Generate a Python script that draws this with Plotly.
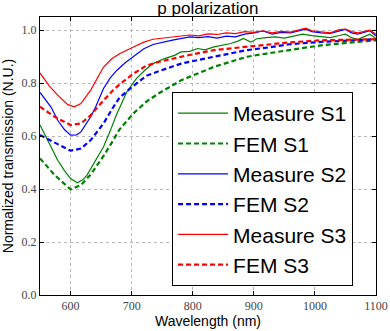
import plotly.graph_objects as go

# Measured spectra (wavelength in nm, normalized transmission)
meas_s1_wl = [550, 565, 579, 590, 600, 611, 620, 627, 640, 654, 665, 675, 692, 708, 722, 735,
              754, 770, 781, 795, 808, 820, 835, 850, 862, 875, 883, 895, 905, 920, 935, 950,
              965, 980, 995, 1010, 1025, 1040, 1050, 1060, 1070, 1080, 1090, 1100]
meas_s1 = [0.642, 0.57, 0.509, 0.47, 0.44, 0.424, 0.435, 0.453, 0.505, 0.56, 0.62, 0.68, 0.767,
           0.818, 0.85, 0.874, 0.893, 0.905, 0.918, 0.92, 0.931, 0.926, 0.937, 0.945, 0.95, 0.96,
           0.969, 0.955, 0.968, 0.972, 0.975, 0.97, 0.978, 0.985, 0.98, 0.975, 0.972, 0.98,
           0.985, 0.972, 0.965, 0.975, 0.985, 0.968]

meas_s2_wl = [550, 560, 568, 579, 590, 600, 610, 617, 633, 641, 654, 665, 676, 690, 703, 720,
              735, 750, 765, 780, 795, 810, 825, 840, 855, 870, 885, 900, 915, 930, 945, 960,
              975, 985, 995, 1010, 1025, 1040, 1050, 1060, 1070, 1080, 1090, 1100]
meas_s2 = [0.765, 0.735, 0.71, 0.66, 0.625, 0.604, 0.605, 0.616, 0.673, 0.71, 0.78, 0.82,
           0.849, 0.878, 0.9, 0.93, 0.946, 0.955, 0.962, 0.968, 0.975, 0.972, 0.976, 0.97,
           0.978, 0.975, 0.985, 0.99, 0.997, 0.985, 0.992, 0.99, 1.0, 1.004, 0.995, 0.99,
           0.988, 0.998, 1.003, 0.99, 0.985, 0.992, 0.998, 0.978]

meas_s3_wl = [550, 565, 579, 595, 606, 617, 633, 654, 668, 681, 703, 720, 735, 750, 765, 780,
              795, 810, 825, 840, 855, 870, 885, 900, 915, 930, 945, 960, 975, 985, 995, 1010,
              1025, 1040, 1050, 1060, 1070, 1080, 1090, 1100]
meas_s3 = [0.839, 0.79, 0.755, 0.72, 0.711, 0.723, 0.774, 0.861, 0.893, 0.912, 0.937, 0.955,
           0.966, 0.97, 0.975, 0.978, 0.982, 0.979, 0.986, 0.984, 0.99, 0.987, 0.995, 0.992,
           0.998, 0.99, 0.996, 0.993, 1.003, 1.008, 0.998, 0.995, 0.99, 1.002, 1.004, 0.995,
           0.99, 0.995, 1.0, 0.985]

# FEM simulations
fem_wl = [550, 574, 600, 617, 633, 644, 654, 670, 680, 703, 724, 744, 781, 835, 889, 921,
          958, 1010, 1100]
fem_s1 = [0.516, 0.453, 0.399, 0.415, 0.455, 0.49, 0.525, 0.585, 0.625, 0.686, 0.73, 0.761,
          0.811, 0.862, 0.9, 0.912, 0.925, 0.943, 0.962]
fem_s2 = [0.604, 0.575, 0.545, 0.553, 0.585, 0.618, 0.648, 0.71, 0.745, 0.79, 0.828, 0.845,
          0.874, 0.9, 0.925, 0.934, 0.947, 0.956, 0.966]
fem_s3 = [0.711, 0.673, 0.642, 0.648, 0.679, 0.71, 0.735, 0.774, 0.795, 0.836, 0.866, 0.88,
          0.9, 0.925, 0.937, 0.943, 0.954, 0.962, 0.966]

x_ticks = [600, 700, 800, 900, 1000, 1100]
y_ticks = [0.0, 0.2, 0.4, 0.6, 0.8, 1.0]

series = [
    ("Measure S1", meas_s1_wl, meas_s1, "#008000", "solid", 1.2),
    ("FEM S1", fem_wl, fem_s1, "#008000", "5px,3px", 2.2),
    ("Measure S2", meas_s2_wl, meas_s2, "#0000ff", "solid", 1.2),
    ("FEM S2", fem_wl, fem_s2, "#0000ff", "5px,3px", 2.2),
    ("Measure S3", meas_s3_wl, meas_s3, "#ff0000", "solid", 1.2),
    ("FEM S3", fem_wl, fem_s3, "#ff0000", "5px,3px", 2.2),
]

fig = go.Figure()
for name, xs, ys, color, dash, width in series:
    fig.add_trace(go.Scatter(x=xs, y=ys, name=name, mode="lines",
                             line=dict(color=color, dash=dash, width=width)))

axis_common = dict(
    showline=True, linecolor="black", linewidth=1, mirror="allticks",
    ticks="inside", ticklen=4, tickcolor="black",
    showgrid=True, gridcolor="#b8b8b8", griddash="dot", gridwidth=1,
    zeroline=False, automargin=False,
    tickfont=dict(family="Liberation Serif", size=12, color="#444"),
)

fig.update_xaxes(range=[550, 1100], tickvals=x_ticks,
                 title=dict(text="Wavelength (nm)", standoff=2,
                            font=dict(family="Liberation Sans", size=14, color="black")),
                 **axis_common)
fig.update_yaxes(range=[0, 1.05], tickvals=y_ticks, tickformat=".1f",
                 title=dict(text="Normalized transmission (N.U.)", standoff=5,
                            font=dict(family="Liberation Sans", size=14, color="black")),
                 **axis_common)

fig.update_layout(
    width=390, height=331,
    margin=dict(l=40, r=14, t=17, b=36),
    paper_bgcolor="white", plot_bgcolor="white",
    title=dict(text="p polarization", x=0.533, xanchor="center",
               yref="container", y=0.994, yanchor="top", pad=dict(t=0, b=0),
               font=dict(family="Liberation Sans", size=17, color="black")),
    legend=dict(x=0.393, y=0.73, xanchor="left", yanchor="top",
                bgcolor="white", bordercolor="black", borderwidth=1,
                font=dict(family="Liberation Sans", size=21, color="black"),
                itemwidth=50, tracegroupgap=0),
)

# remove the default page margin so the figure sits at the window's corner
fig.write_html("out.html", config={"displayModeBar": False},
               post_script="document.body.style.margin='0';")
